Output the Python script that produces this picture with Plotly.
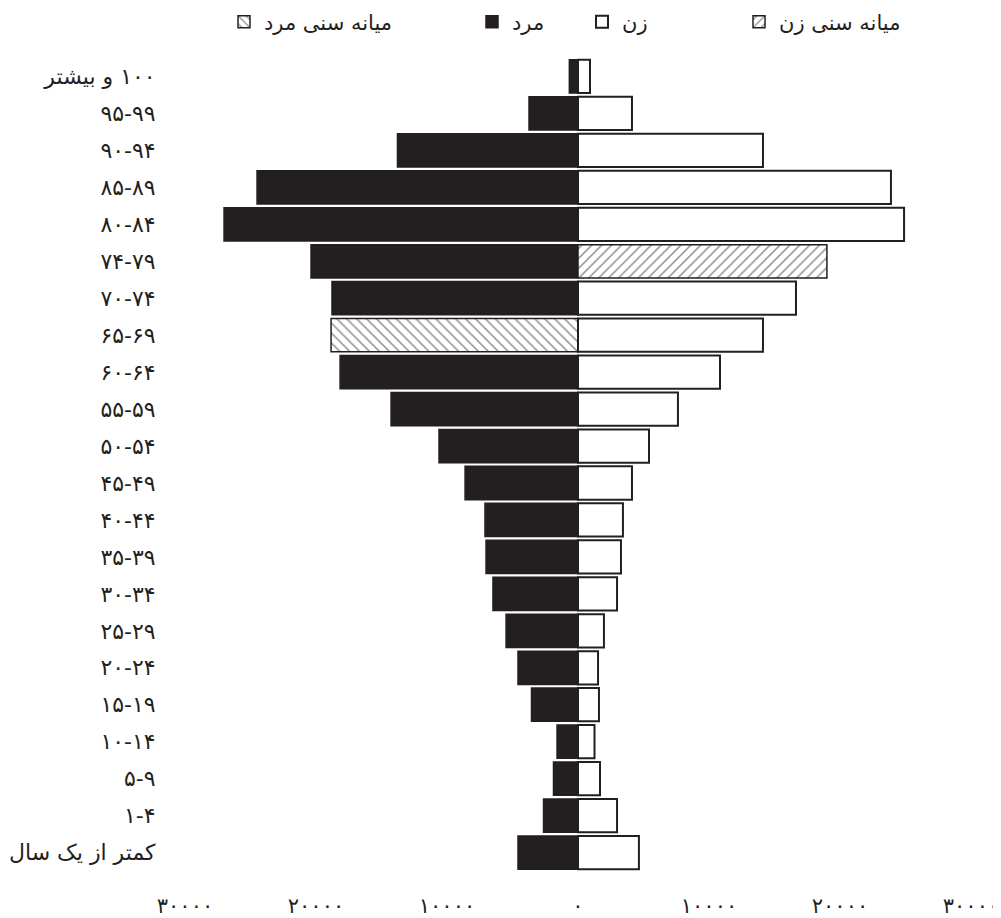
import plotly.graph_objects as go

# Age groups, bottom to top
categories = [
    "کمتر از یک سال", "۱-۴", "۵-۹", "۱۰-۱۴", "۱۵-۱۹", "۲۰-۲۴", "۲۵-۲۹",
    "۳۰-۳۴", "۳۵-۳۹", "۴۰-۴۴", "۴۵-۴۹", "۵۰-۵۴", "۵۵-۵۹", "۶۰-۶۴",
    "۶۵-۶۹", "۷۰-۷۴", "۷۴-۷۹", "۸۰-۸۴", "۸۵-۸۹", "۹۰-۹۴", "۹۵-۹۹",
    "\u200f۱۰۰ و بیشتر",
]
male = [4580, 2630, 1870, 1600, 3550, 4580, 5490, 6490, 7020, 7100, 8620,
        10610, 14270, 18160, 18850, 18780, 20380, 27020, 24500, 13780, 3740, 660]
female = [4650, 2980, 1680, 1260, 1600, 1530, 1980, 2980, 3280, 3430, 4120,
          5420, 7630, 10840, 14120, 16640, 19000, 24890, 23890, 14120, 4120, 915]
male_median = "۶۵-۶۹"
female_median = "۷۴-۷۹"

tick_vals = [-30000, -20000, -10000, 0, 10000, 20000, 30000]
tick_text = ["۳۰۰۰۰", "۲۰۰۰۰", "۱۰۰۰۰", "۰", "۱۰۰۰۰", "۲۰۰۰۰", "۳۰۰۰۰"]

name_male_median = "میانه سنی مرد"
name_male = "مرد"
name_female = "زن"
name_female_median = "میانه سنی زن"

INK = "#231f20"
FONT = "DejaVu Sans"

mi = categories.index(male_median)
fi = categories.index(female_median)

male_x = [(-v if i != mi else None) for i, v in enumerate(male)]
female_x = [(v if i != fi else None) for i, v in enumerate(female)]

fig = go.Figure()
fig.add_trace(go.Bar(
    y=[categories[mi]], x=[-male[mi]], orientation="h", name=name_male_median,
    marker=dict(color="white", line=dict(color=INK, width=1.5),
                pattern=dict(shape="\\", fgcolor=INK, bgcolor="white", size=7, solidity=0.22)),
    legend="legend", showlegend=True, hoverinfo="skip",
))
fig.add_trace(go.Bar(
    y=categories, x=male_x, orientation="h", name=name_male,
    marker=dict(color=INK, line=dict(color=INK, width=1.5)),
    legend="legend2", showlegend=True, hoverinfo="skip",
))
fig.add_trace(go.Bar(
    y=categories, x=female_x, orientation="h", name=name_female,
    marker=dict(color="white", line=dict(color=INK, width=2)),
    legend="legend3", showlegend=True, hoverinfo="skip",
))
fig.add_trace(go.Bar(
    y=[categories[fi]], x=[female[fi]], orientation="h", name=name_female_median,
    marker=dict(color="white", line=dict(color=INK, width=1.5),
                pattern=dict(shape="/", fgcolor=INK, bgcolor="white", size=7, solidity=0.22)),
    legend="legend4", showlegend=True, hoverinfo="skip",
))

# The page body has an 8px margin, so the figure is laid out in coordinates shifted by 8px
OFF = 8
W, H = 1001 - OFF, 918 - OFF
left, right, top, bottom = 185 - OFF, 971 - OFF, 58 - OFF, 891 - OFF

def leg(xpage):
    return dict(x=(xpage - OFF) / W, xref="container", xanchor="left",
                y=1 - (22 - OFF) / H, yref="container", yanchor="middle",
                orientation="h", bgcolor="rgba(0,0,0,0)",
                font=dict(family=FONT, size=21, color=INK))

fig.update_layout(
    width=W, height=H,
    margin=dict(l=left, r=W - right, t=top, b=H - bottom, autoexpand=False),
    paper_bgcolor="white", plot_bgcolor="white",
    barmode="overlay", bargap=0.1, showlegend=True,
    font=dict(family=FONT, color=INK),
    legend=leg(224), legend2=leg(472), legend3=leg(582), legend4=leg(739),
    xaxis=dict(range=[-30000, 30000], tickvals=tick_vals, ticktext=tick_text,
               showgrid=False, zeroline=False, showline=False, ticks="",
               automargin=False,
               tickfont=dict(family=FONT, size=21, color=INK), fixedrange=True),
    yaxis=dict(type="category", categoryorder="array", categoryarray=categories,
               range=[-1.04, 21.5], showgrid=False, zeroline=False, showline=False,
               ticks="outside", ticklen=24, tickcolor="rgba(0,0,0,0)",
               automargin=False,
               tickfont=dict(family=FONT, size=22, color=INK), fixedrange=True),
)

fig.write_html("out.html")
